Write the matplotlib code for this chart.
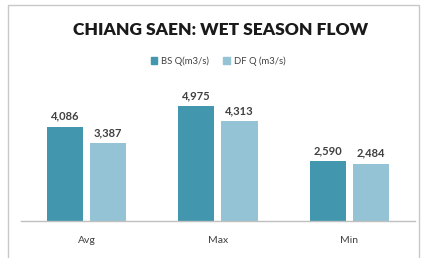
import matplotlib
matplotlib.use("Agg")
import matplotlib.pyplot as plt
from matplotlib.patches import Rectangle, Patch
import numpy as np

categories = ["Avg", "Max", "Min"]
series_names = ["BS Q(m3/s)", "DF Q (m3/s)"]
bs_values = [4086, 4975, 2590]
df_values = [3387, 4313, 2484]
bs_color = "#4297AE"
df_color = "#93C3D5"

W, H = 421, 258
fig = plt.figure(figsize=(W / 100, H / 100), dpi=100)
plt.rcParams['font.family'] = ['Lato', 'DejaVu Sans']

# outer frame
fig.patches.append(Rectangle((8 / W, -0.05), (419 - 8) / W, (H - 5) / H + 0.05,
                             transform=fig.transFigure, fill=False,
                             edgecolor="#C8C8C8", linewidth=1.0))

ax_left, ax_right = 20.75, 415
ax_bottom, ax_top = 221, 96
ax = fig.add_axes([ax_left / W, 1 - ax_bottom / H, (ax_right - ax_left) / W, (ax_bottom - ax_top) / H])

x = np.arange(len(categories))
bw = 0.275
off = 0.165
b1 = ax.bar(x - off, bs_values, bw, color=bs_color, label=series_names[0])
b2 = ax.bar(x + off, df_values, bw, color=df_color, label=series_names[1])

for bars, vals in ((b1, bs_values), (b2, df_values)):
    for r, v in zip(bars, vals):
        ax.annotate(f"{v:,}", (r.get_x() + r.get_width() / 2, v), xytext=(0, 3.5),
                    textcoords="offset points", ha="center", va="bottom",
                    fontsize=8, color="#404040", fontweight="bold")

ax.set_xlim(-0.5, 2.5)
ax.set_ylim(0, 5409)
ax.set_yticks([])
ax.set_xticks(x)
ax.set_xticklabels(categories, fontsize=7.5, color="#404040")
ax.tick_params(axis="x", length=0, pad=10.5)
for s in ["top", "right", "left"]:
    ax.spines[s].set_visible(False)
ax.spines["bottom"].set_color("#BFBFBF")
ax.spines["bottom"].set_linewidth(1.0)
ax.patch.set_alpha(0)

fig.text(221 / W, 1 - 30 / H, "CHIANG SAEN: WET SEASON FLOW", ha="center", va="center",
         fontsize=12.5, fontweight="heavy", color="#1A1A1A")

handles = [Patch(color=bs_color), Patch(color=df_color)]
fig.legend(handles, series_names, loc="center", bbox_to_anchor=(218 / W, 1 - 61 / H),
           ncol=2, frameon=False, fontsize=6.8, handlelength=0.7, handleheight=0.7,
           handletextpad=0.4, columnspacing=1.5, labelcolor="#404040")

fig.savefig("out.png", dpi=100)
